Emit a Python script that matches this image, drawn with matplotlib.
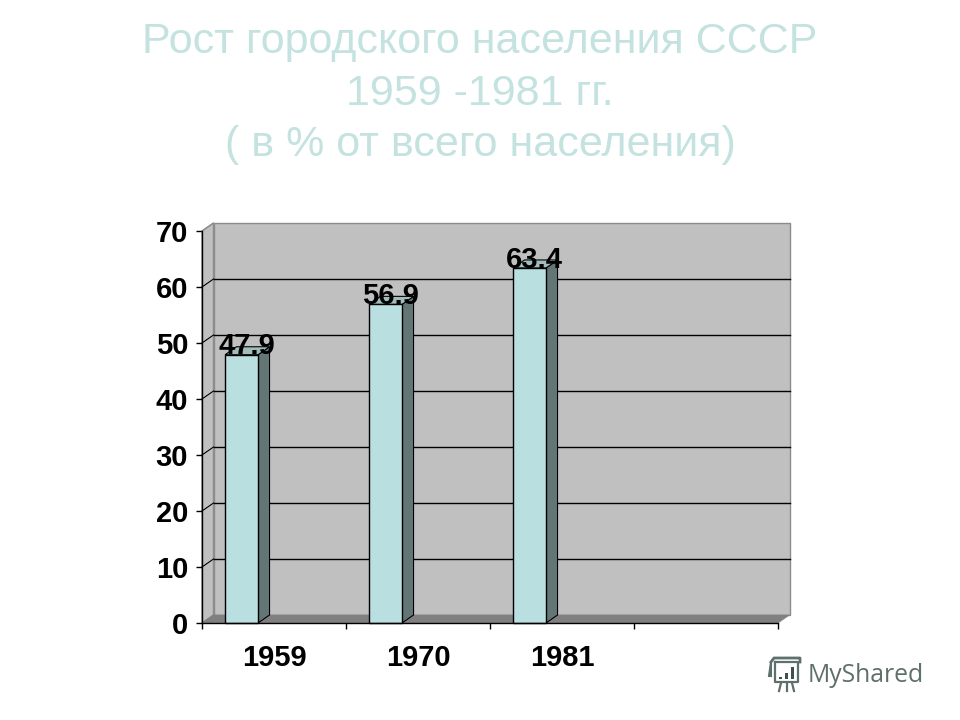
import matplotlib
matplotlib.use('Agg')
import matplotlib.pyplot as plt

plt.rcParams['font.family'] = ['Liberation Sans', 'DejaVu Sans']

years = ['1959', '1970', '1981', '']
values = [47.9, 56.9, 63.4]
value_labels = ['47.9', '56.9', '63.4']
y_ticks = [0, 10, 20, 30, 40, 50, 60, 70]
title_lines = ['Рост городского населения СССР', '1959 -1981 гг.', '( в % от всего населения)']
watermark = 'MyShared'
chart_bars = [1, 2, 3]

WALL = '#c0c0c0'
FLOOR = '#808080'
FRONT = '#b9dfe1'
SIDE = '#637575'
TOP = '#a2bcbc'
TITLE = '#c3e2e0'

fig = plt.figure(figsize=(9.6, 7.2), dpi=100)
fig.patch.set_facecolor('white')

# plot area in pixels of the 960x720 picture
ax = fig.add_axes([202 / 960, (720 - 623) / 720, 576 / 960, 392 / 720])
ax.set_xlim(0, 4)
ax.set_ylim(0, 70)
ax.patch.set_visible(False)

# fake 3d depth, in data units
dx = 11.5 / 144
dy = 8 / 5.6

# walls and floor
ax.fill([dx, 4 + dx, 4 + dx, dx], [dy, dy, 70 + dy, 70 + dy], fc=WALL, ec='#8c8c8c', lw=1, clip_on=False, zorder=1)
ax.fill([0, dx, dx, 0], [0, dy, 70 + dy, 70], fc=WALL, ec='#8c8c8c', lw=1, clip_on=False, zorder=1)
ax.fill([0, 4, 4 + dx, dx], [0, 0, dy, dy], fc=FLOOR, ec=FLOOR, lw=0.5, clip_on=False, zorder=2)

# gridlines bent round the left wall
for v in y_ticks[1:]:
    if v < 70:
        ax.plot([dx, 4 + dx], [v + dy, v + dy], color='black', lw=1, clip_on=False, zorder=2)
    ax.plot([0, dx], [v, v + dy], color='black' if v < 70 else '#8c8c8c', lw=0.8, clip_on=False, zorder=2)

# bars sit left of the category centre, the other series slots are empty
bar_w = 33 / 144
bar_x = [i - 1 + 0.16 + bar_w / 2 for i in chart_bars]
ax.bar(bar_x, values, width=bar_w, color=FRONT, edgecolor='black', lw=1, zorder=4, clip_on=False)
for x, v in zip(bar_x, values):
    x0 = x - bar_w / 2
    x1 = x + bar_w / 2
    ax.fill([x1, x1 + dx, x1 + dx, x1], [0, dy, v + dy, v], fc=SIDE, ec='black', lw=0.8, zorder=3, clip_on=False)
    ax.fill([x0, x1, x1 + dx, x0 + dx], [v, v, v + dy, v + dy], fc=TOP, ec='black', lw=0.8, zorder=3, clip_on=False)

for x, v, lab in zip(bar_x, values, value_labels):
    ax.annotate(lab, (x + 5 / 144, v), xytext=(0, 6), textcoords='offset points', ha='center', va='center',
                fontsize=21, fontweight='bold', color='black', zorder=6, annotation_clip=False)

# axes
for s in ['top', 'right']:
    ax.spines[s].set_visible(False)
for s in ['left', 'bottom']:
    ax.spines[s].set_linewidth(1)
    ax.spines[s].set_zorder(5)
ax.set_yticks(y_ticks)
ax.set_yticklabels([str(v) for v in y_ticks], fontsize=21, fontweight='bold')
ax.tick_params(axis='y', length=4, width=1, pad=6)
ax.set_xticks(range(5))
ax.set_xticklabels([])
ax.tick_params(axis='x', which='major', length=4, width=1)
ax.set_xticks([i + 0.5 for i in range(4)], minor=True)
ax.set_xticklabels(years, minor=True, fontsize=21, fontweight='bold')
ax.tick_params(axis='x', which='minor', length=0, pad=15)

# slide title
for line, ypx in zip(title_lines, [42, 94, 145]):
    fig.text(0.5, 1 - ypx / 720, line, ha='center', va='center', fontsize=31, color=TITLE)

# watermark
fig.text(808 / 960, 1 - 675 / 720, watermark, ha='left', va='center', fontsize=17.8,
         color='#5f6f6b', family=['Open Sans', 'DejaVu Sans'])
ic = fig.add_axes([766 / 960, 1 - 694 / 720, 38 / 960, 38 / 720])
ic.set_xlim(0, 38)
ic.set_ylim(38, 0)
ic.axis('off')
ic.plot([5, 8, 34, 34], [6, 2, 2, 6], color='#5f6f6b', lw=2)
ic.plot([3, 5, 5], [20, 6, 20], color='#5f6f6b', lw=1.5)
ic.plot([9, 9, 32, 32, 9], [6, 26, 26, 6, 6], color='#5f6f6b', lw=1.6)
ic.bar([14, 20, 26], [2, 6, 12], bottom=[23 - 2, 23 - 6, 23 - 12], width=3, color='#3f4f4b')
ic.plot([15, 13], [27, 35], color='#5f6f6b', lw=1.6)
ic.plot([20.5, 20.5], [27, 35], color='#5f6f6b', lw=1.6)
ic.plot([26, 28], [27, 35], color='#5f6f6b', lw=1.6)

fig.savefig('out.png', dpi=100)
